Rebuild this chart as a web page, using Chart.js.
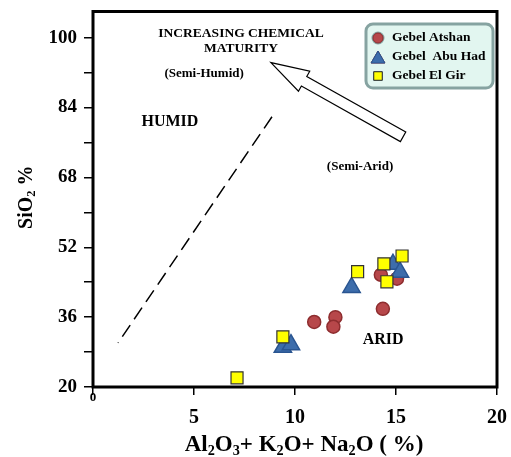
<!DOCTYPE html>
<html>
<head>
<meta charset="utf-8">
<script src="https://cdn.jsdelivr.net/npm/chart.js@4.4.1/dist/chart.umd.min.js"></script>
<style>
    html, body { margin: 0; padding: 0; background: #fff; }
    #wrap { width: 511px; height: 457px; }
</style>
</head>
<body>
<div id="wrap"><canvas id="maturityChart" width="511" height="457"></canvas></div>
<script>
// Al2O3 + K2O + Na2O (%) vs SiO2 (%) for each locality
const atshanX = [10.95, 12.0, 11.9, 14.35, 14.25, 15.05];
const atshanY = [34.9, 36.0, 33.8, 37.9, 45.7, 44.8];

const abuHadX = [9.4, 9.8, 12.8, 14.85, 15.2];
const abuHadY = [29.1, 29.7, 42.8, 48.1, 46.3];

const elGirX = [7.13, 9.4, 13.1, 14.4, 14.55, 15.3];
const elGirY = [22.1, 31.5, 46.4, 48.2, 44.1, 50.0];

// humid / arid boundary (dashed)
const boundaryX = [8.86, 1.24];
const boundaryY = [81.9, 30.1];

const seriesNames = ['Gebel Atshan', 'Gebel  Abu Had', 'Gebel El Gir'];
const xTicks = [0, 5, 10, 15, 20];
const yTicks = [20, 28, 36, 44, 52, 60, 68, 76, 84, 92, 100];
const yLabels = [20, 36, 52, 68, 84, 100];

const SERIF = '"Liberation Serif", "Times New Roman", serif';

const toPoints = (xs, ys) => xs.map((x, i) => ({ x: x, y: ys[i] }));

// field labels, placed in data units
const notes = [
    { text: 'INCREASING CHEMICAL', x: 7.33, y: 101.0, size: 13.5 },
    { text: 'MATURITY', x: 7.33, y: 97.5, size: 13.5 },
    { text: '(Semi-Humid)', x: 5.5, y: 91.8, size: 13 },
    { text: 'HUMID', x: 3.81, y: 80.8, size: 16 },
    { text: '(Semi-Arid)', x: 13.22, y: 70.5, size: 13 },
    { text: 'ARID', x: 14.36, y: 30.8, size: 16 }
];
const arrowTip = { x: 8.81, y: 94.3 };
const arrowTail = { x: 15.35, y: 77.3 };

// text with subscripts: parts = [[text, isSub], ...], centred on (x, y)
function drawRich(ctx, parts, x, y, size) {
    const subSize = size * 0.62;
    let total = 0;
    parts.forEach(p => {
        ctx.font = 'bold ' + (p[1] ? subSize : size) + 'px ' + SERIF;
        total += ctx.measureText(p[0]).width;
    });
    let cx = x - total / 2;
    const base = y + size * 0.33;
    ctx.textAlign = 'left';
    ctx.textBaseline = 'alphabetic';
    parts.forEach(p => {
        ctx.font = 'bold ' + (p[1] ? subSize : size) + 'px ' + SERIF;
        ctx.fillText(p[0], cx, p[1] ? base + size * 0.18 : base);
        cx += ctx.measureText(p[0]).width;
    });
}

function drawBlockArrow(ctx, tip, tail) {
    const dx = tail.x - tip.x, dy = tail.y - tip.y;
    const len = Math.hypot(dx, dy);
    const ux = dx / len, uy = dy / len, nx = -uy, ny = ux;
    const headLen = 38, headHalf = 11.5, shaftHalf = 5.5;
    const bx = tip.x + ux * headLen, by = tip.y + uy * headLen;
    ctx.beginPath();
    ctx.moveTo(tip.x, tip.y);
    ctx.lineTo(bx + nx * headHalf, by + ny * headHalf);
    ctx.lineTo(bx + nx * shaftHalf, by + ny * shaftHalf);
    ctx.lineTo(tail.x + nx * shaftHalf, tail.y + ny * shaftHalf);
    ctx.lineTo(tail.x - nx * shaftHalf, tail.y - ny * shaftHalf);
    ctx.lineTo(bx - nx * shaftHalf, by - ny * shaftHalf);
    ctx.lineTo(bx - nx * headHalf, by - ny * headHalf);
    ctx.closePath();
    ctx.fillStyle = '#fff';
    ctx.fill();
    ctx.lineWidth = 1.2;
    ctx.strokeStyle = '#000';
    ctx.stroke();
}

const decorations = {
    id: 'decorations',
    beforeDatasetsDraw(chart) {
        const { ctx, chartArea: a } = chart;
        ctx.save();
        ctx.lineWidth = 3;
        ctx.strokeStyle = '#000';
        ctx.strokeRect(a.left, a.top, a.right - a.left, a.bottom - a.top);
        ctx.restore();
    },
    afterDraw(chart) {
        const { ctx, chartArea: a } = chart;
        const xs = chart.scales.x, ys = chart.scales.y;
        ctx.save();
        ctx.fillStyle = '#000';

        // notes
        ctx.textAlign = 'center';
        ctx.textBaseline = 'middle';
        notes.forEach(n => {
            ctx.font = 'bold ' + n.size + 'px ' + SERIF;
            ctx.fillText(n.text, xs.getPixelForValue(n.x), ys.getPixelForValue(n.y));
        });

        drawBlockArrow(ctx,
            { x: xs.getPixelForValue(arrowTip.x), y: ys.getPixelForValue(arrowTip.y) },
            { x: xs.getPixelForValue(arrowTail.x), y: ys.getPixelForValue(arrowTail.y) });

        // small origin label
        ctx.fillStyle = '#000';
        ctx.font = 'bold 13px ' + SERIF;
        ctx.textAlign = 'center';
        ctx.textBaseline = 'middle';
        ctx.fillText('0', xs.getPixelForValue(0), a.bottom + 11);

        // axis titles
        drawRich(ctx, [['Al', 0], ['2', 1], ['O', 0], ['3', 1], ['+ K', 0], ['2', 1],
            ['O+ Na', 0], ['2', 1], ['O ( %)', 0]], (a.left + a.right) / 2 + 9, 443, 23);
        ctx.save();
        ctx.translate(25, (a.top + a.bottom) / 2 - 2);
        ctx.rotate(-Math.PI / 2);
        drawRich(ctx, [['SiO', 0], ['2', 1], [' %', 0]], 0, 0, 20);
        ctx.restore();

        // legend
        const lx = 366, ly = 24, lw = 127, lh = 64;
        ctx.beginPath();
        ctx.roundRect(lx, ly, lw, lh, 7);
        ctx.fillStyle = '#e2f6f0';
        ctx.fill();
        ctx.lineWidth = 3;
        ctx.strokeStyle = '#86a3a1';
        ctx.stroke();
        chart.data.datasets.slice(0, 3).forEach((ds, i) => {
            const cy = ly + 14 + i * 19;
            const r = [5, 8, 6][i];
            Chart.helpers.drawPoint(ctx, {
                pointStyle: ds.pointStyle, radius: r, rotation: 0,
                borderWidth: 1
            }, lx + 12, cy + (i === 1 ? 2 : 0));
            ctx.fillStyle = ds.backgroundColor;
            ctx.strokeStyle = ds.borderColor;
            ctx.lineWidth = 1;
            ctx.fill();
            ctx.stroke();
            ctx.fillStyle = '#000';
            ctx.font = 'bold 13.5px ' + SERIF;
            ctx.textAlign = 'left';
            ctx.textBaseline = 'middle';
            ctx.fillText(seriesNames[i], lx + 26, cy);
        });
        ctx.restore();
    }
};

const ctx = document.getElementById('maturityChart').getContext('2d');

new Chart(ctx, {
    type: 'scatter',
    data: {
        datasets: [{
            label: seriesNames[0],
            data: toPoints(atshanX, atshanY),
            pointStyle: 'circle',
            pointRadius: 6.5,
            backgroundColor: '#b7474a',
            borderColor: '#8e2d2f',
            borderWidth: 1.5,
            order: 3
        }, {
            label: seriesNames[1],
            data: toPoints(abuHadX, abuHadY),
            pointStyle: 'triangle',
            pointRadius: 10,
            backgroundColor: '#3d6dab',
            borderColor: '#2a5591',
            borderWidth: 1.5,
            order: 2
        }, {
            label: seriesNames[2],
            data: toPoints(elGirX, elGirY),
            pointStyle: 'rect',
            pointRadius: 8.5,
            backgroundColor: '#ffff00',
            borderColor: '#333333',
            borderWidth: 1.2,
            order: 1
        }, {
            label: 'boundary',
            data: toPoints(boundaryX, boundaryY),
            showLine: true,
            pointRadius: 0,
            borderColor: '#000',
            borderWidth: 1.5,
            borderDash: [14, 7],
            order: 4
        }]
    },
    options: {
        responsive: false,
        animation: false,
        events: [],
        layout: { padding: { top: 11, right: 14, left: 0, bottom: 0 } },
        plugins: {
            legend: { display: false },
            tooltip: { enabled: false }
        },
        scales: {
            x: {
                type: 'linear',
                min: 0,
                max: 20,
                afterBuildTicks: s => { s.ticks = xTicks.map(v => ({ value: v })); },
                afterFit: s => { s.height = 70; s.paddingLeft = 0; s.paddingRight = 0; },
                ticks: {
                    color: '#000',
                    padding: 11,
                    font: { family: SERIF, size: 20, weight: 'bold' },
                    callback: v => (v === 0 ? '' : v)
                },
                grid: { drawOnChartArea: false, drawTicks: true, tickLength: 8, color: '#000', lineWidth: 1.5 },
                border: { display: false }
            },
            y: {
                type: 'linear',
                min: 20,
                max: 106,
                afterBuildTicks: s => { s.ticks = yTicks.map(v => ({ value: v })); },
                afterFit: s => { s.width = 93; s.paddingTop = 0; s.paddingBottom = 0; },
                ticks: {
                    color: '#000',
                    padding: 7,
                    font: { family: SERIF, size: 19, weight: 'bold' },
                    callback: v => (yLabels.includes(v) ? v : '')
                },
                grid: { drawOnChartArea: false, drawTicks: true, tickLength: 9, color: '#000', lineWidth: 1.5 },
                border: { display: false }
            }
        }
    },
    plugins: [decorations]
});
</script>
</body>
</html>
